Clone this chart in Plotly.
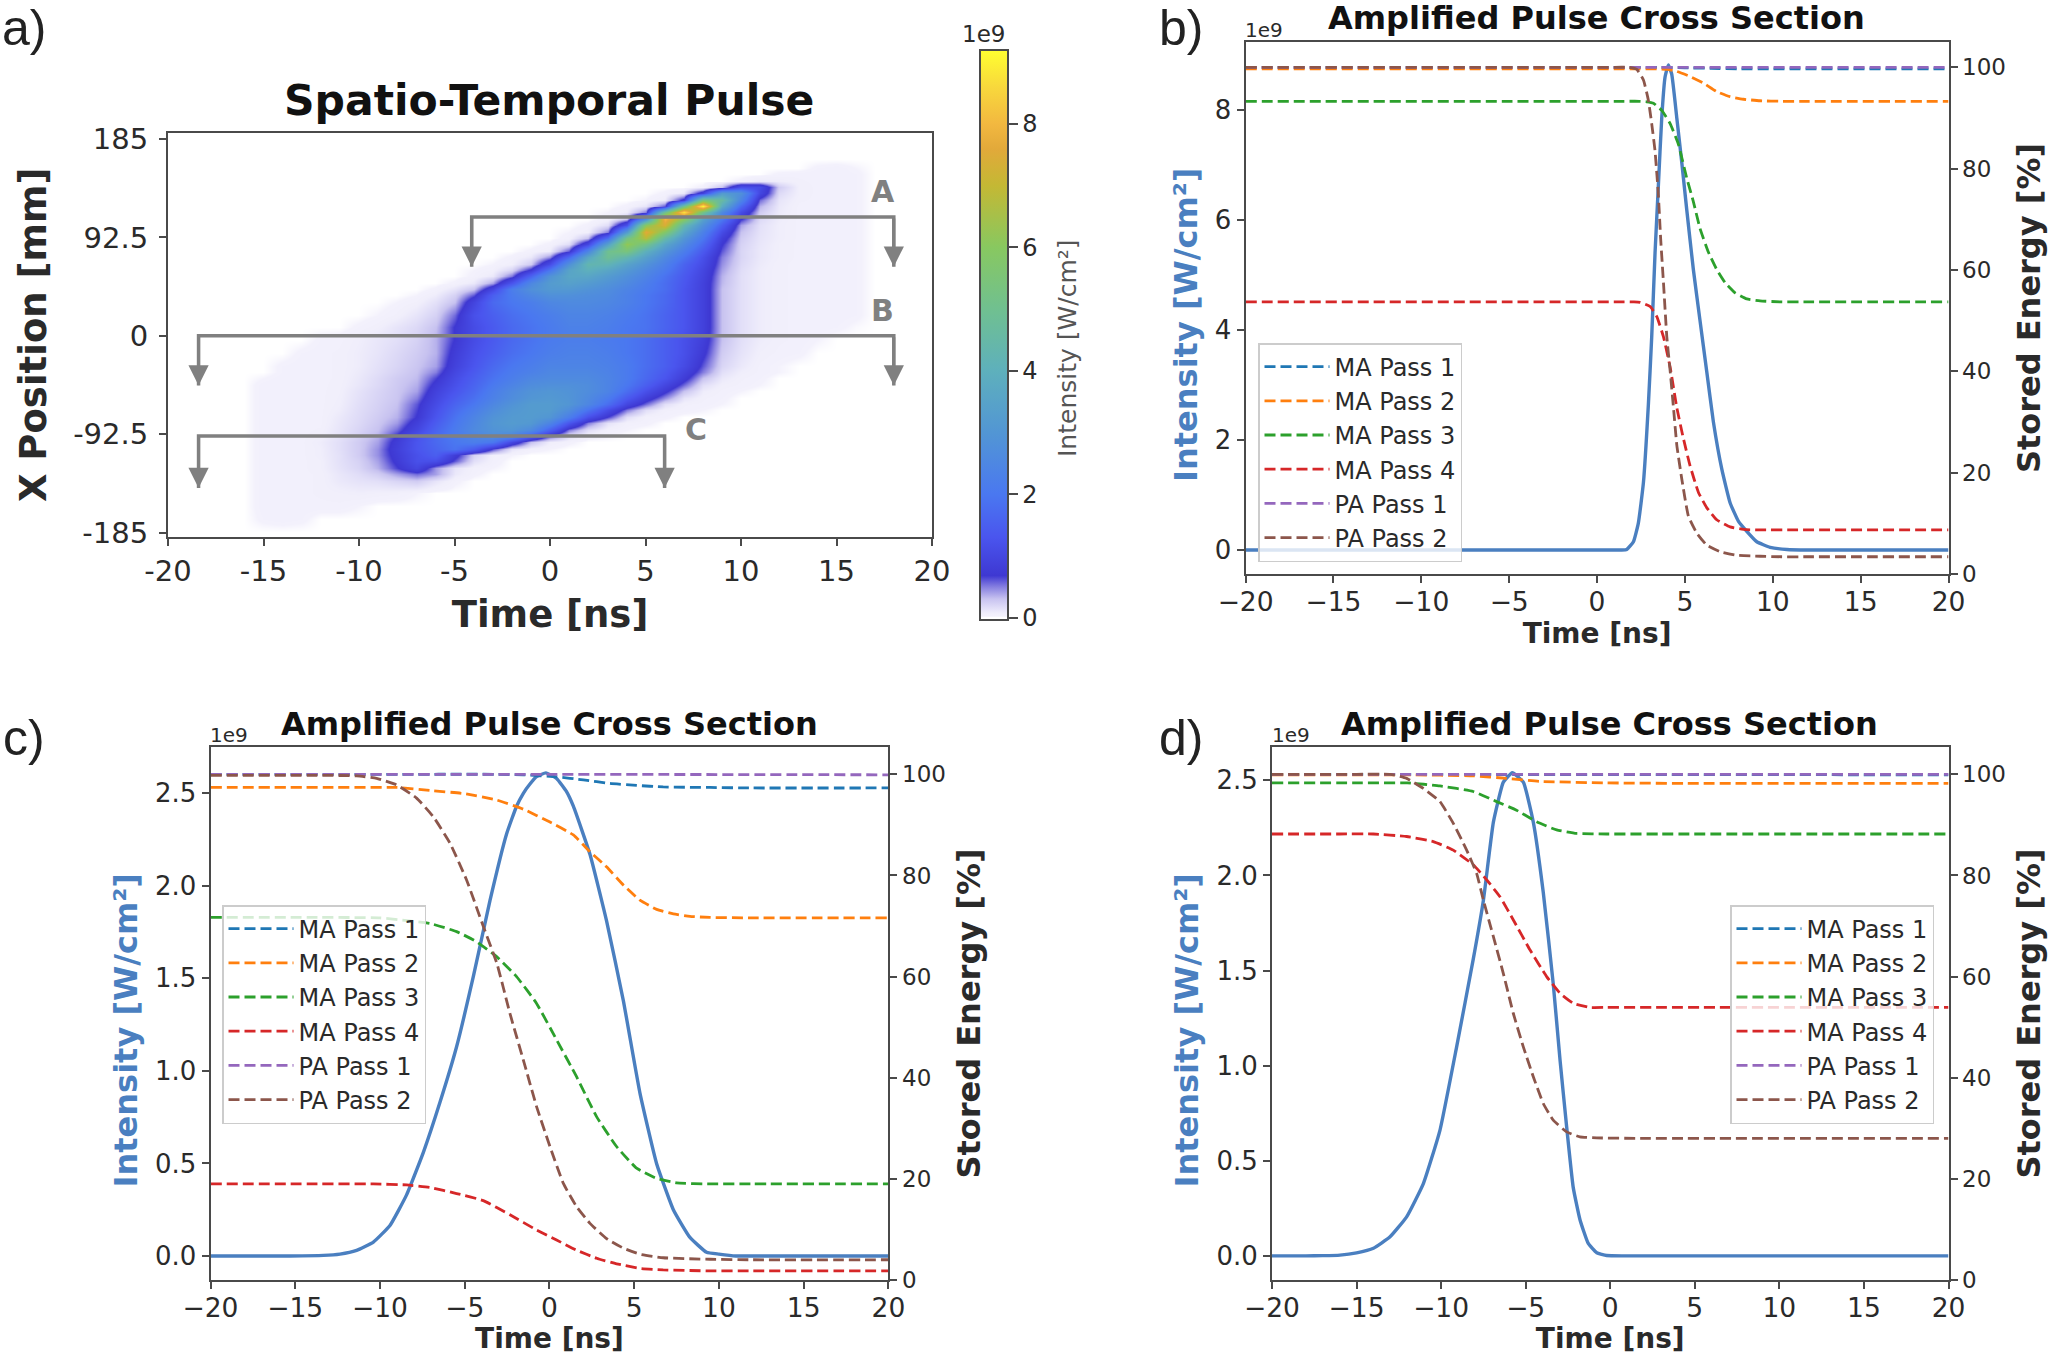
import plotly.graph_objects as go

W, H = 2050, 1355
FONT = "DejaVu Sans"
INK = "#2a2a2a"
FRAME = "#4a4a4a"
BLUE_SOLID = "#4a7fc0"
GRAY = "#808080"

# ---------- panel a: intensity map (1e9 W/cm2), each row = (x position, first time, values every 1 ns)
PULSE_TIME = list(range(-17, 18))
PULSE_ROWS = [
    (-184, -15, [0]),
    (-172, -15, [.03,.04,.03]),
    (-160, -15, [.04,.04,.04,.04,.04,.02]),
    (-148, -15, [.04,.04,.04,.05,.06,.07,.06,.05,.02]),
    (-136, -15, [.04,.04,.04,.05,.1,.13,.15,.2,.25,.12,.03]),
    (-130, -15, [.04,.04,.04,.05,.11,.16,.24,.4,.55,.4,.1,.03]),
    (-124, -15, [.04,.04,.04,.06,.13,.2,.35,.65,1.0,.42,.12,.04,.02]),
    (-118, -15, [.04,.04,.04,.06,.14,.22,.4,.75,1.2,1.15,.6,.15,.04]),
    (-112, -15, [.04,.04,.04,.07,.14,.25,.45,.8,1.2,1.5,.8,.22,.05,.02]),
    (-106, -15, [.04,.04,.04,.07,.15,.25,.45,.85,1.3,1.6,1.9,1.4,.62,.12,.04,.02]),
    (-100, -15, [.04,.04,.04,.08,.15,.25,.4,.8,1.3,1.7,2.0,2.2,2.0,1.0,.3,.07,.03]),
    (-94, -15, [.04,.04,.04,.06,.13,.22,.35,.7,1.2,1.7,2.1,2.4,2.7,2.4,1.4,.55,.15,.04,.02]),
    (-88, -15, [.04,.04,.04,.05,.12,.2,.3,.55,1.0,1.6,2.1,2.6,2.9,3.0,2.6,1.5,.5,.15,.04,.02]),
    (-82, -15, [.04,.04,.04,.04,.11,.18,.27,.42,.85,1.45,2.0,2.5,3.0,3.2,3.1,2.4,1.3,.5,.13,.04,.03]),
    (-76, -15, [.04,.04,.04,.04,.1,.17,.25,.35,.7,1.3,1.9,2.4,2.9,3.15,3.2,3.0,2.2,1.2,.65,.15,.04,.03]),
    (-70, -15, [.04,.04,.04,.04,.08,.16,.23,.32,.65,1.2,1.75,2.2,2.7,3.05,3.2,3.2,2.7,1.9,1.1,.5,.15,.05,.04,.02]),
    (-64, -15, [.04,.04,.04,.04,.07,.15,.22,.3,.6,1.1,1.6,2.0,2.5,2.9,3.2,3.2,3.0,2.5,1.8,1.0,.55,.15,.05,.04,.02]),
    (-58, -15, [.04,.04,.04,.04,.065,.14,.21,.28,.5,1.0,1.45,1.85,2.3,2.7,3.0,3.1,2.95,2.6,2.1,1.4,.85,.45,.12,.05,.03]),
    (-52, -15, [.04,.04,.04,.04,.06,.13,.2,.27,.4,.9,1.3,1.7,2.2,2.6,2.9,3.0,2.9,2.7,2.4,1.8,1.2,.75,.3,.08,.04,.02]),
    (-46, -15, [.04,.04,.04,.04,.055,.11,.18,.26,.36,.78,1.2,1.6,2.05,2.4,2.7,2.8,2.8,2.7,2.4,2.0,1.5,1.0,.55,.15,.06,.04,.02]),
    (-40, -15, [.02,.04,.04,.04,.05,.1,.17,.25,.32,.65,1.1,1.5,1.9,2.2,2.5,2.6,2.6,2.6,2.4,2.1,1.7,1.3,.8,.3,.1,.05,.03]),
    (-34, -14, [.03,.04,.04,.05,.09,.15,.22,.3,.5,1.0,1.4,1.8,2.1,2.3,2.5,2.5,2.5,2.35,2.1,1.75,1.4,.95,.5,.15,.07,.04,.02]),
    (-28, -14, [.03,.04,.04,.05,.08,.14,.2,.28,.4,.9,1.3,1.7,2.0,2.2,2.4,2.4,2.4,2.3,2.1,1.8,1.5,1.1,.6,.2,.1,.04,.02]),
    (-16, -13, [.03,.04,.05,.08,.12,.18,.25,.35,.8,1.2,1.5,1.8,2.0,2.2,2.3,2.3,2.2,2.0,1.8,1.5,1.2,.75,.25,.13,.06,.04,.03]),
    (-4, -12, [.03,.04,.07,.11,.15,.22,.35,.7,1.1,1.4,1.7,1.9,2.1,2.2,2.2,2.1,2.0,1.8,1.5,1.2,.85,.3,.15,.08,.05,.04,.02]),
    (8, -10, [.03,.06,.12,.18,.3,.7,1.1,1.4,1.7,1.9,2.1,2.3,2.3,2.2,2.0,1.9,1.6,1.3,.9,.3,.15,.08,.05,.04,.04,.03,.01]),
    (20, -9, [.02,.05,.12,.22,.55,1.2,1.5,1.8,2.0,2.2,2.4,2.4,2.3,2.1,1.9,1.6,1.3,.9,.3,.15,.08,.05,.04,.04,.04,.03]),
    (32, -8, [.02,.05,.14,.3,.95,1.7,2.0,2.2,2.5,2.6,2.6,2.5,2.3,2.0,1.7,1.3,.9,.3,.15,.08,.05,.04,.04,.04,.03]),
    (38, -7, [.02,.08,.22,.6,1.5,2.1,2.5,2.8,2.8,2.7,2.6,2.3,2.0,1.7,1.3,.9,.3,.15,.08,.05,.04,.04,.04,.03]),
    (44, -6, [.03,.12,.28,1.0,2.2,2.8,3.1,3.1,2.9,2.7,2.4,2.1,1.8,1.3,.9,.3,.15,.08,.05,.04,.04,.04,.03]),
    (50, -5, [.03,.1,.4,1.3,2.5,3.2,3.4,3.2,2.9,2.6,2.2,1.8,1.35,.9,.33,.15,.08,.05,.04,.04,.04,.03]),
    (56, -4, [.03,.1,.52,1.6,2.9,3.6,3.6,3.2,2.8,2.4,1.9,1.4,.95,.35,.15,.08,.05,.04,.04,.04,.03]),
    (62, -4, [.02,.05,.2,.75,2.0,3.5,4.0,3.6,3.1,2.6,2.1,1.5,1.0,.4,.16,.08,.05,.04,.04,.04,.03]),
    (68, -3, [.02,.06,.25,1.1,2.8,4.3,4.2,3.5,2.9,2.3,1.6,1.1,.45,.18,.09,.05,.04,.04,.04,.03]),
    (74, -2, [.03,.1,.45,1.7,3.6,4.9,4.3,3.4,2.6,1.9,1.2,.5,.2,.1,.06,.04,.04,.04,.03]),
    (80, -1, [.03,.08,.6,2.4,5.0,5.4,4.0,3.0,2.2,1.4,.6,.2,.1,.06,.04,.04,.04,.03]),
    (86, 0, [.03,.15,1.0,3.4,6.2,5.2,3.6,2.6,1.7,.7,.22,.11,.06,.04,.04,.04,.03]),
    (92, 1, [.04,.3,1.8,5.2,6.8,4.5,3.0,2.0,.85,.25,.12,.07,.04,.04,.04,.03]),
    (98, 1, [.02,.06,.5,3.2,7.6,5.8,3.6,2.3,1.1,.3,.13,.07,.04,.04,.04,.03]),
    (104, 2, [.03,.15,1.2,6.0,7.4,4.4,2.8,1.5,.4,.14,.07,.04,.04,.04,.03]),
    (110, 3, [.04,.3,2.8,8.0,6.0,3.4,2.0,.7,.18,.08,.04,.04,.04,.03]),
    (116, 3, [.02,.08,.5,5.0,8.8,5.2,2.6,1.1,.25,.09,.04,.04,.04,.03]),
    (122, 4, [.03,.12,.6,5.0,9.1,3.8,1.7,.35,.1,.04,.04,.04,.03]),
    (128, 5, [.02,.08,.8,5.5,4.6,2.4,.55,.12,.05,.04,.04,.03]),
    (134, 6, [.03,.1,.9,3.2,2.8,1.0,.18,.06,.04,.04,.03]),
    (140, 8, [.03,.3,1.2,1.1,.25,.06,.04,.04,.03]),
    (146, 10, [.03,.1,.08,.05,.04,.04,.03]),
    (152, 12, [.03,.04,.04,.04,.03]),
    (158, 14, [.03,.04,.02]),
    (166, 14, [0]),
]
PULSE_XPOS = [r[0] for r in PULSE_ROWS]
PULSE_Z = []
for _, first, vals in PULSE_ROWS:
    row = [0.0] * len(PULSE_TIME)
    start = PULSE_TIME.index(first)
    row[start:start + len(vals)] = vals
    PULSE_Z.append(row)

COLOR_STOPS = [(-.04,"#ffffff"),(0,"#ffffff"),(.022,"#f3f1fc"),(.07,"#f0eefb"),(.15,"#e2dff8"),(.3,"#c8c3f0"),(.5,"#857ee0"),
               (.68,"#3e38d2"),(1.3,"#4a55ee"),(2,"#4a78f0"),(3,"#5296d4"),(4,"#5eb0bc"),(5,"#70c090"),
               (6,"#88c860"),(7,"#c4b834"),(7.6,"#e2a93a"),(8,"#f2b840"),(8.6,"#f8d83c"),(9.2,"#ffff30")]

BRACKET_A = dict(x=[-4.1, -4.1, 18, 18], y=[65, 111.7, 111.7, 65])
BRACKET_B = dict(x=[-18.4, -18.4, 18, 18], y=[-46.7, 0, 0, -46.7])
BRACKET_C = dict(x=[-18.4, -18.4, 6, 6], y=[-143, -94, -94, -143])

# ---------- panel b
B_PULSE_T = [-20,-5,0.74,1.4,1.69,2.07,2.35,2.64,2.92,3.11,3.3,3.49,3.68,3.87,4.06,4.25,4.54,4.82,5.1,5.48,5.86,6.24,6.62,7.1,7.57,8.05,8.52,9.09,9.85,10.8,12,20]
B_PULSE_I = [0,0,0,0,.01,.15,.49,1.23,2.64,3.87,5.4,6.63,7.85,8.6,8.82,8.65,7.85,7.05,6.2,5.1,4.17,3.25,2.33,1.47,.86,.52,.34,.15,.05,.01,0,0]
B_MA1_T = [-20,-5,3.5,5,6.5,8,10,20]
B_MA1_S = [100,100,100,99.9,99.8,99.7,99.7,99.7]
B_MA2_T = [-20,-5,2,3.5,4,4.54,5.29,6.05,6.81,7.57,8.33,9.28,10.5,12,20]
B_MA2_S = [99.7,99.7,99.7,99.7,99.6,99.2,98.2,96.9,95.2,94.2,93.7,93.4,93.3,93.3,93.3]
B_MA3_T = [-20,-5,1.5,2.4,2.83,3.21,3.68,4.16,4.63,5.1,5.48,5.86,6.34,6.81,7.29,7.86,8.52,9.28,10.5,12,20]
B_MA3_S = [93.3,93.3,93.3,93.3,93.2,92.9,91.5,88.9,84.8,78.2,73.5,68.2,63.5,60.1,57.5,55.5,54.3,53.9,53.7,53.7,53.7]
B_MA4_T = [-20,-5,1.2,2.1,2.45,3.02,3.4,3.78,4.16,4.54,4.91,5.29,5.77,6.24,6.81,7.57,8.5,9.5,11,20]
B_MA4_S = [53.7,53.7,53.7,53.7,53.6,52.8,50.8,46.8,40.8,32.8,26.8,21.4,16.1,13.1,10.7,9.3,8.75,8.7,8.7,8.7]
B_PA1_T = [-20,20]
B_PA1_S = [100,100]
B_PA2_T = [-20,-5,1,1.8,2.26,2.64,2.92,3.11,3.3,3.49,3.62,3.78,3.97,4.16,4.35,4.54,4.82,5.2,5.67,6.24,7,7.95,9.28,10.5,12,20]
B_PA2_S = [100,100,100,100,99.6,97.5,93.5,88.9,83.5,74.8,66.2,57.5,46.8,40.1,32.8,25.4,18.8,11.4,8.1,5.7,4.4,3.7,3.5,3.4,3.4,3.4]

# ---------- panel c
C_PULSE_T = [-20,-17,-15.31,-13.34,-12.36,-11.38,-10.39,-9.41,-8.43,-7.44,-6.46,-5.48,-4.49,-3.51,-2.53,-1.94,-1.54,-1.15,-.76,-.21,.42,1,1.41,2.39,3.37,4.36,5.34,6.32,7.31,8.29,9.27,10,11,13,20]
C_PULSE_I = [0,0,0,.003,.01,.03,.075,.165,.33,.56,.83,1.13,1.51,1.92,2.28,2.43,2.5,2.55,2.59,2.61,2.58,2.51,2.43,2.17,1.81,1.38,.88,.5,.25,.10,.02,.01,0,0,0]
C_MA1_T = [-20,-10,-3,-1.54,.42,2,3.57,5.14,6.71,9.47,12,20]
C_MA1_S = [100,100,100,99.9,99.5,98.9,98.2,97.8,97.5,97.4,97.3,97.3]
C_MA2_T = [-20,-13,-9,-7.05,-5.08,-3.1,-1.54,0,1.41,2.39,3.37,4.36,5.34,6.32,7.31,8.29,9.47,12,20]
C_MA2_S = [97.4,97.4,97.4,96.8,96.2,94.9,93.1,90.6,88,84.7,81.7,78.1,75.1,73.3,72.4,71.9,71.7,71.6,71.6]
C_MA3_T = [-20,-14,-10,-7.05,-5.48,-4.3,-3.1,-1.94,-.76,.42,1.6,2.78,3.96,5.14,6.32,7.5,9.47,12,20]
C_MA3_S = [71.7,71.7,71.6,70.5,68.9,66.9,63.9,60,54.7,47.5,40.2,32.3,26.4,22.1,20.1,19.2,19,19,19]
C_MA4_T = [-20,-14,-10.4,-8.43,-7.05,-5.48,-3.9,-2.33,-.76,.42,1.6,2.78,3.96,5.34,6.71,9.47,12,20]
C_MA4_S = [19,19,19,18.8,18.3,17.1,15.7,12.9,9.9,7.9,5.9,4.3,3.2,2.3,2,1.8,1.8,1.8]
C_PA1_T = [-20,0,20]
C_PA1_S = [100,100,99.9]
C_PA2_T = [-20,-14,-11.38,-10.2,-9.02,-7.84,-6.85,-5.87,-4.89,-3.9,-3.1,-2.33,-1.54,-.76,.03,.82,1.6,2.39,3.37,4.36,5.34,6.71,9.47,12,20]
C_PA2_S = [99.8,99.8,99.7,99.2,97.9,95.3,91.6,86.4,79.1,69.9,62.6,52.7,43.5,34.3,26.4,19.1,14.5,11.2,8.2,6.3,5.1,4.4,4.1,4,4]

# ---------- panel d
D_PULSE_T = [-20,-18,-17,-15.98,-15,-14,-13.02,-12.04,-11.05,-10.07,-9.08,-8.1,-7.5,-6.91,-6.32,-5.79,-5.14,-4.55,-3.96,-3.37,-2.97,-2.58,-2.19,-1.79,-1.3,-.8,-.21,.77,3,20]
D_PULSE_I = [0,0,.001,.004,.016,.04,.10,.205,.38,.66,1.10,1.56,1.87,2.28,2.49,2.54,2.49,2.28,1.91,1.43,1.03,.68,.36,.19,.065,.016,.002,0,0,0]
D_MA1_T = [-20,0,20]
D_MA1_S = [100,99.95,99.9]
D_MA2_T = [-20,-15,-12,-8.1,-6.13,-4.16,-.21,5,20]
D_MA2_S = [99.9,99.9,99.9,99.7,99.2,98.6,98.3,98.2,98.2]
D_MA3_T = [-20,-15,-12,-10.07,-8.1,-6.72,-5.54,-4.35,-3.17,-1.99,-.21,3,20]
D_MA3_S = [98.3,98.3,98.3,97.7,96.6,94.6,92.9,90.6,89,88.3,88.2,88.2,88.2]
D_MA4_T = [-20,-16,-14,-12.04,-10.46,-9.28,-8.1,-7.3,-6.52,-5.73,-4.75,-3.76,-2.97,-2.18,-1.2,-.21,3,20]
D_MA4_S = [88.2,88.2,88.2,87.7,86.7,85,82.1,79.1,75.8,71.2,65.3,60,56.7,54.7,53.9,53.9,53.9,53.9]
D_PA1_T = [-20,20]
D_PA1_S = [100,100]
D_PA2_T = [-20,-15,-13,-12.04,-11.05,-10.07,-9.28,-8.49,-7.9,-7.5,-6.91,-6.32,-5.73,-5.14,-4.55,-3.96,-3.37,-2.58,-1.79,-.8,2,20]
D_PA2_S = [100,100,100,99.2,97.2,94.6,90.3,85,80.4,75.1,67.9,60.6,52.7,46.1,40.2,34.9,31.6,29.3,28.3,28.1,28,28]

SERIES_NAMES = ["MA Pass 1", "MA Pass 2", "MA Pass 3", "MA Pass 4", "PA Pass 1", "PA Pass 2"]
SERIES_COLORS = ["#1f77b4", "#ff7f0e", "#2ca02c", "#d62728", "#9467bd", "#8c564b"]
TIME_TICKS = [-20, -15, -10, -5, 0, 5, 10, 15, 20]
STORED_TICKS = [0, 20, 40, 60, 80, 100]

# ---------- layout helpers
def xdom(a, b): return [a / W, b / W]
def ydom(top, bot): return [1 - bot / H, 1 - top / H]

fig = go.Figure()
layout = dict(width=W, height=H, margin=dict(l=0, r=0, t=0, b=0, pad=0, autoexpand=False), paper_bgcolor="white",
              plot_bgcolor="rgba(0,0,0,0)", font=dict(family=FONT, color=INK), showlegend=True)
annots = []

def text(t, x, y, size, color=INK, bold=False, angle=0, family=FONT):
    annots.append(dict(text=f"<b>{t}</b>" if bold else t, x=x / W, y=1 - y / H, xref="paper", yref="paper",
                       xanchor="center", yanchor="middle", showarrow=False, textangle=angle,
                       font=dict(size=size, color=color, family=family)))

def axis_common(size, **kw):
    d = dict(showline=True, linecolor=FRAME, linewidth=2, ticks="outside", ticklen=7, tickwidth=1.6,
             tickcolor=FRAME, showgrid=False, zeroline=False, tickfont=dict(size=size, family=FONT, color=INK))
    d.update(kw)
    return d

# ---------- panel a
fig.add_trace(go.Heatmap(
    x=PULSE_TIME, y=PULSE_XPOS, z=PULSE_Z, zsmooth="best", zmin=-.04, zmax=9.2, xaxis="x", yaxis="y",
    colorscale=[[min(1.0, round((v + .04) / 9.24, 5)), c] for v, c in COLOR_STOPS], showlegend=False,
    colorbar=dict(x=980 / W, xanchor="left", xref="paper", y=1 - 50 / H, yanchor="top", yref="paper", len=570 / H,
                  lenmode="fraction", thickness=28, thicknessmode="pixels", outlinewidth=2, outlinecolor=FRAME,
                  xpad=0, ypad=0, tickvals=[0, 2, 4, 6, 8], ticks="outside", ticklen=9, tickwidth=1.6, tickcolor=FRAME,
                  tickfont=dict(size=24, family=FONT, color=INK)),
))
layout["xaxis"] = axis_common(29, domain=xdom(168, 932), anchor="y", range=[-20, 20], mirror=True,
                              tickvals=[-20,-15,-10,-5,0,5,10,15,20],
                              ticktext=["-20","-15","-10","-5","0","5","10","15","20"],
                              title=dict(text="<b>Time [ns]</b>", font=dict(size=37, family=FONT, color=INK), standoff=14))
layout["yaxis"] = axis_common(29, domain=ydom(132.6, 537), anchor="x", range=[-189, 191], mirror=True,
                              ticklabelstandoff=5,
                              tickvals=[-185,-92.5,0,92.5,185], ticktext=["-185","-92.5","0","92.5","185"],
                              title=dict(text="<b>X Position [mm]</b>", font=dict(size=37, family=FONT, color=INK), standoff=15))
for br, xs in ((BRACKET_A, (-4.1, 18)), (BRACKET_B, (-18.4, 18)), (BRACKET_C, (-18.4, 6))):
    fig.add_trace(go.Scatter(x=br["x"], y=br["y"], mode="lines", line=dict(color=GRAY, width=3.5), showlegend=False,
                             xaxis="x", yaxis="y", hoverinfo="skip"))
    for xx in xs:
        annots.append(dict(x=xx, y=br["y"][0], ax=xx, ay=br["y"][1], xref="x", yref="y", axref="x", ayref="y", text="",
                           showarrow=True, arrowhead=2, arrowsize=1.35, arrowwidth=3, arrowcolor=GRAY))
text("A", 882.5, 191.6, 30, GRAY, True)
text("B", 882.5, 310.7, 30, GRAY, True)
text("C", 696, 429.6, 30, GRAY, True)
text("Spatio-Temporal Pulse", 549, 101, 42.5, "#111111", True)
text("1e9", 983, 34, 23)
text("Intensity [W/cm²]", 1067, 348, 25, "#555555", angle=-90)

# ---------- panels b, c, d
def panel(idx, box, ylim, yticks, slim, pulse, series, legend_box):
    left, right, top, bot = box
    xn, yn, y2n = f"x{idx}", f"y{idx}", f"y{idx + 1}"
    xa, ya, ya2 = f"xaxis{idx}", f"yaxis{idx}", f"yaxis{idx + 1}"
    lname = f"legend{idx}"
    layout[xa] = axis_common(26.5, domain=xdom(left, right), anchor=yn, range=[-20, 20], tickvals=TIME_TICKS,
                             mirror=True, ticklabelstandoff=-4,
                             title=dict(text="<b>Time [ns]</b>", font=dict(size=28, family=FONT, color=INK), standoff=6))
    layout[ya] = axis_common(26, domain=ydom(top, bot), anchor=xn, range=ylim, tickvals=yticks,
                             tickformat=".1f" if yticks[1] < 1 else "d",
                             title=dict(text="<b>Intensity [W/cm²]\u00a0\u00a0\u00a0</b>", font=dict(size=32, family=FONT, color=BLUE_SOLID), standoff=8))
    layout[ya2] = axis_common(23, domain=ydom(top, bot), anchor=xn, overlaying=yn, side="right", range=slim,
                              tickvals=STORED_TICKS,
                              title=dict(text="<b>Stored Energy [%]</b>", font=dict(size=32, family=FONT, color=INK), standoff=13))
    fig.add_trace(go.Scatter(x=pulse[0], y=pulse[1], mode="lines", line=dict(color=BLUE_SOLID, width=3.4, shape="spline", smoothing=.4),
                             xaxis=xn, yaxis=yn, showlegend=False))
    for name, color, (t, s) in zip(SERIES_NAMES, SERIES_COLORS, series):
        fig.add_trace(go.Scatter(x=t, y=s, name=name, mode="lines",
                                 line=dict(color=color, width=2.8, dash="11px,5px", shape="spline", smoothing=.4),
                                 xaxis=xn, yaxis=y2n, legend=lname))
    layout[lname] = dict(x=legend_box[0] / W, y=1 - legend_box[1] / H, xanchor="left", yanchor="top",
                         bgcolor="rgba(255,255,255,0.8)", bordercolor="#cccccc", borderwidth=1.5,
                         font=dict(size=24, family=FONT, color=INK), itemwidth=65, tracegroupgap=0, itemclick=False)

panel(2, (1245.6, 1948.5, 42, 574), [-.436, 9.236], [0, 2, 4, 6, 8], [0, 105], (B_PULSE_T, B_PULSE_I),
      [(B_MA1_T, B_MA1_S), (B_MA2_T, B_MA2_S), (B_MA3_T, B_MA3_S), (B_MA4_T, B_MA4_S), (B_PA1_T, B_PA1_S), (B_PA2_T, B_PA2_S)], (1258, 343))
panel(4, (210.5, 888.4, 747, 1280), [-.13, 2.75], [0, .5, 1, 1.5, 2, 2.5], [0, 105.4], (C_PULSE_T, C_PULSE_I),
      [(C_MA1_T, C_MA1_S), (C_MA2_T, C_MA2_S), (C_MA3_T, C_MA3_S), (C_MA4_T, C_MA4_S), (C_PA1_T, C_PA1_S), (C_PA2_T, C_PA2_S)], (222, 905))
panel(6, (1272, 1948.5, 747, 1280), [-.127, 2.675], [0, .5, 1, 1.5, 2, 2.5], [0, 105.4], (D_PULSE_T, D_PULSE_I),
      [(D_MA1_T, D_MA1_S), (D_MA2_T, D_MA2_S), (D_MA3_T, D_MA3_S), (D_MA4_T, D_MA4_S), (D_PA1_T, D_PA1_S), (D_PA2_T, D_PA2_S)], (1730, 905))

TITLE = "Amplified Pulse Cross Section"
text(TITLE, 1596, 18, 32, "#111111", True)
text(TITLE, 549, 724, 32, "#111111", True)
text(TITLE, 1609, 724, 32, "#111111", True)
text("1e9", 1264, 30, 20)
text("1e9", 229, 735, 20)
text("1e9", 1291, 735, 20)
for lab, x, y in (("a)", 24, 28), ("b)", 1181, 28), ("c)", 24, 738), ("d)", 1181, 738)):
    text(lab, x, y, 50, "#222222", family="Liberation Sans")

layout["annotations"] = annots
fig.update_layout(**layout)
fig.write_html("out.html", config={"displayModeBar": False},
               post_script="document.body.style.margin='0';document.documentElement.style.overflow='hidden';")
